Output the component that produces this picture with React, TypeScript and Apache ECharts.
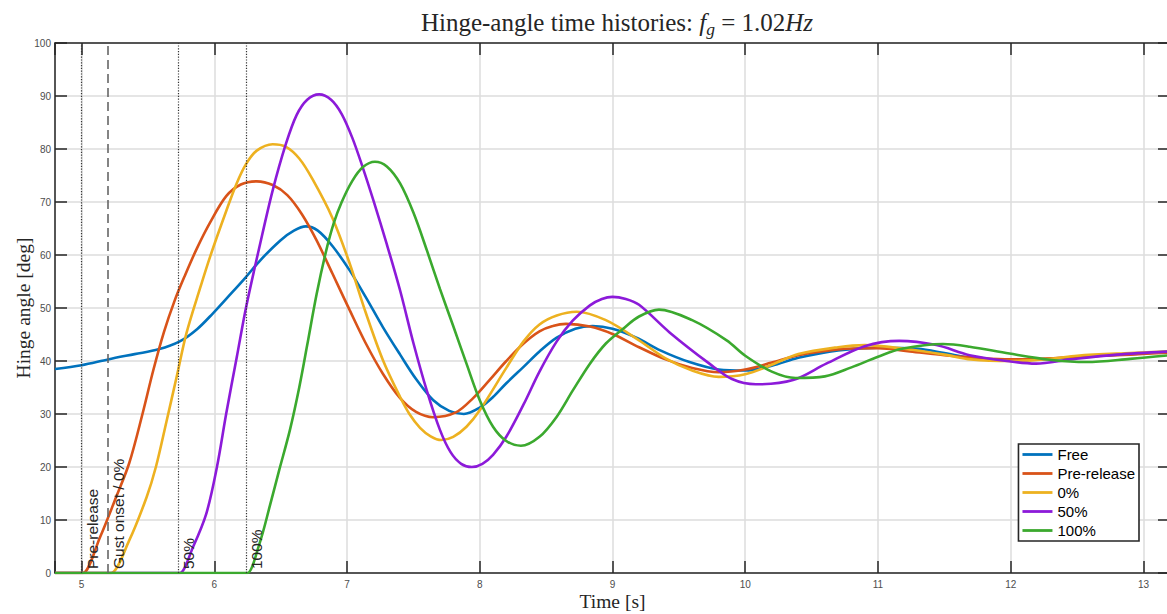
import React, { useEffect, useRef } from 'react';
import * as echarts from 'echarts';

// ---------- data ----------
const seriesNames = ['Free', 'Pre-release', '0%', '50%', '100%'];
const seriesColors = ['#0072BD', '#D95319', '#EDB120', '#8C1AD9', '#3BA92E'];

const freeData = [
  [4.8, 38.5], [5.0, 39.2], [5.2, 40.3], [5.4, 41.3], [5.58, 42.2], [5.74, 43.7], [5.87, 46], [5.99, 49],
  [6.1, 52], [6.22, 55.3], [6.35, 59.1], [6.5, 62.8], [6.6, 64.6], [6.69, 65.4], [6.78, 64.6], [6.89, 61.7],
  [7.02, 57.1], [7.14, 52.1], [7.27, 46.4], [7.4, 41.2], [7.52, 36.6], [7.65, 32.6], [7.77, 30.6], [7.88, 30],
  [8.0, 31.2], [8.1, 33.2], [8.2, 35.8], [8.33, 38.9], [8.45, 41.8], [8.58, 44.4], [8.72, 46.1], [8.85, 46.6],
  [9.0, 46.1], [9.18, 44.4], [9.36, 42], [9.58, 39.8], [9.8, 38.4], [10.0, 38.2], [10.2, 39.1], [10.4, 40.6],
  [10.7, 42.0], [11.0, 42.5], [11.3, 42.3], [11.5, 41.5], [11.7, 40.6], [12.0, 40.1], [12.3, 40.4], [12.5, 40.8],
  [12.9, 41.3], [13.2, 41.8],
];

const preReleaseData = [
  [4.8, 0], [4.99, 0], [5.01, 0], [5.14, 6.8], [5.26, 14.3], [5.36, 20.8], [5.46, 30.1], [5.54, 38.2],
  [5.62, 45.4], [5.7, 51.3], [5.78, 56.2], [5.87, 61.3], [5.97, 66.2], [6.09, 71.1], [6.2, 73.3], [6.32, 73.9],
  [6.44, 73.2], [6.55, 71.3], [6.66, 67.7], [6.77, 62.8], [6.89, 56.5], [7.02, 49.6], [7.14, 43.4], [7.27, 37.6],
  [7.4, 33.0], [7.52, 30.4], [7.65, 29.4], [7.82, 30.3], [7.95, 33.0], [8.07, 36.3], [8.2, 40.0], [8.33, 43.3],
  [8.45, 45.6], [8.55, 46.6], [8.65, 47], [8.83, 46.5], [9.0, 45.1], [9.2, 42.6], [9.4, 40.3], [9.6, 38.7],
  [9.8, 37.9], [10.0, 38.4], [10.2, 39.7], [10.4, 41.1], [10.7, 42.2], [11.0, 42.4], [11.24, 41.8], [11.5, 41.1],
  [11.7, 40.7], [12.0, 40.3], [12.3, 40.5], [12.5, 40.8], [12.9, 41.2], [13.2, 41.6],
];

const zeroPctData = [
  [4.8, 0], [5.2, 0], [5.22, 0], [5.36, 6.2], [5.49, 14.3], [5.56, 20], [5.64, 28.6], [5.72, 37.4], [5.79, 45.2],
  [5.9, 54.3], [5.97, 59.8], [6.09, 68.3], [6.17, 73.6], [6.24, 77.2], [6.32, 79.7], [6.44, 80.9], [6.54, 80.4],
  [6.64, 78.2], [6.74, 74.3], [6.89, 67.0], [7.02, 58.4], [7.14, 49.2], [7.27, 40.2], [7.4, 33.2], [7.47, 30.0],
  [7.55, 27.4], [7.63, 25.8], [7.71, 25.1], [7.8, 25.7], [7.9, 27.6], [8.0, 30.7], [8.2, 38.7], [8.33, 43.7],
  [8.45, 46.9], [8.58, 48.6], [8.73, 49.3], [8.95, 47.7], [9.2, 43.9], [9.4, 40.5], [9.6, 38.2], [9.8, 37],
  [10.0, 37.5], [10.2, 39.3], [10.4, 41.3], [10.7, 42.6], [10.9, 43], [11.2, 42.3], [11.5, 41.2], [11.7, 40.3],
  [12.0, 40], [12.3, 40.4], [12.5, 41], [12.9, 41.5], [13.2, 41.8],
];

const fiftyPctData = [
  [4.8, 0], [5.72, 0], [5.74, 0], [5.84, 4.9], [5.94, 11.2], [6.02, 20], [6.09, 30.1], [6.17, 40.8], [6.24, 50.2],
  [6.34, 61.5], [6.44, 72.2], [6.54, 81], [6.62, 86.4], [6.7, 89.3], [6.79, 90.3], [6.88, 89.3], [6.96, 86.6],
  [7.04, 82.1], [7.12, 76.4], [7.2, 70.2], [7.3, 62.0], [7.4, 53.3], [7.5, 43.4], [7.6, 34.5], [7.7, 27.0],
  [7.78, 22.8], [7.86, 20.6], [7.94, 20.0], [8.02, 20.6], [8.1, 22.3], [8.2, 25.7], [8.33, 31.8], [8.45, 38.0],
  [8.58, 43.7], [8.7, 47.6], [8.83, 50.5], [8.92, 51.7], [9.0, 52.1], [9.1, 51.7], [9.2, 50.6], [9.43, 45.4],
  [9.73, 39.5], [9.9, 36.6], [10.08, 35.6], [10.36, 36.4], [10.61, 39.5], [10.9, 42.8], [11.16, 43.8],
  [11.44, 43], [11.69, 41.1], [12.0, 39.9], [12.19, 39.5], [12.45, 40.3], [12.8, 41.2], [13.2, 41.8],
];

const hundredPctData = [
  [4.8, 0], [6.23, 0], [6.25, 0], [6.34, 5.5], [6.42, 12.8], [6.49, 19.5], [6.57, 27], [6.64, 35], [6.7, 43],
  [6.77, 52.5], [6.84, 60.5], [6.9, 66], [6.96, 70.0], [7.04, 74.0], [7.12, 76.6], [7.21, 77.6], [7.3, 76.7],
  [7.4, 73.5], [7.5, 68.0], [7.6, 61.0], [7.7, 53.6], [7.8, 46.6], [7.9, 39.5], [8.0, 32.6], [8.1, 27.6],
  [8.2, 24.9], [8.31, 24], [8.45, 25.7], [8.58, 29.5], [8.7, 34.4], [8.83, 39.5], [8.95, 43.3], [9.08, 46.1],
  [9.2, 48.4], [9.35, 49.7], [9.6, 47.7], [9.86, 43.9], [10.0, 41.0], [10.2, 38.0], [10.38, 36.8], [10.6, 37.1],
  [10.8, 38.8], [11.0, 40.8], [11.18, 42.3], [11.49, 43.2], [11.69, 42.7], [11.99, 41.4], [12.31, 40.2],
  [12.57, 39.8], [12.9, 40.4], [13.2, 41.1],
];

const seriesData = [freeData, preReleaseData, zeroPctData, fiftyPctData, hundredPctData];

const markerTimes = [5.0, 5.2, 5.73, 6.24];
const markerLabels = ['Pre-release', 'Gust onset / 0%', '50%', '100%'];
const markerDashed = [false, true, false, false];

const xMin = 4.8;
const xMax = 13.2;
const yMin = 0;
const yMax = 100;
const yStep = 10;

// ---------- styles ----------
const SANS = '"Liberation Sans", Arial, Helvetica, sans-serif';
const SERIF = '"Liberation Serif", "Times New Roman", serif';
const axisColor = '#262626';
const axisLineStyle = { color: axisColor, width: 1.5 };
const tickCfg = { show: true, inside: true, length: 12, lineStyle: { color: axisColor, width: 1.5 } };
const gridLine = { show: true, lineStyle: { color: '#dcdcdc', width: 1.5 } };

function buildOption() {
  const xCommon = {
    type: 'value',
    min: xMin,
    max: xMax,
    minInterval: 1,
    maxInterval: 1,
    axisLine: { show: true, onZero: false, lineStyle: axisLineStyle },
    axisTick: tickCfg,
  };
  const yCommon = {
    type: 'value',
    min: yMin,
    max: yMax,
    interval: yStep,
    axisLine: { show: true, onZero: false, lineStyle: axisLineStyle },
    axisTick: tickCfg,
  };

  const markLineData = markerTimes.map((t, i) => ({
    xAxis: t,
    name: markerLabels[i],
    lineStyle: markerDashed[i]
      ? { type: [9, 5], color: '#666666', width: 1.6 }
      : { type: [1.2, 1.6], color: '#333333', width: 1.2 },
  }));

  const series = seriesNames.map((name, i) => {
    const s: any = {
      name,
      type: 'line',
      data: seriesData[i],
      symbol: 'none',
      showSymbol: false,
      smooth: 0.33,
      color: seriesColors[i],
      lineStyle: { width: 2.6, color: seriesColors[i] },
      z: 3,
    };
    if (i === 0) {
      s.markLine = {
        silent: true,
        symbol: ['none', 'none'],
        animation: false,
        label: {
          show: true,
          position: 'insideStartBottom',
          formatter: '{b}',
          distance: [4, 2.5],
          color: '#262626',
          fontSize: 15.5,
          fontFamily: SANS,
        },
        data: markLineData,
      };
    }
    return s;
  });

  const titleBase = { fontFamily: SERIF, color: '#262626', fontWeight: 'normal' };

  return {
    animation: false,
    backgroundColor: '#ffffff',
    title: {
      text: '{n|Hinge-angle time histories: }{i|f}{s|g}{n| = 1.02}{i|Hz}',
      left: 612,
      textAlign: 'center',
      top: 1,
      textStyle: {
        fontWeight: 'normal',
        rich: {
          n: { ...titleBase, fontSize: 25, lineHeight: 32, verticalAlign: 'middle' },
          i: { ...titleBase, fontSize: 25, fontStyle: 'italic', lineHeight: 32, verticalAlign: 'middle' },
          s: { ...titleBase, fontSize: 17.5, fontStyle: 'italic', lineHeight: 16, verticalAlign: 'bottom' },
        },
      },
    },
    grid: { left: 55, right: -3, top: 43, bottom: 41, containLabel: false, outerBoundsMode: 'none' },
    legend: {
      data: seriesNames,
      orient: 'vertical',
      right: 28,
      bottom: 73,
      itemWidth: 30,
      itemHeight: 14,
      itemGap: 4,
      icon: 'path://M0,0 L30,0 L30,2.8 L0,2.8 Z',
      padding: [3, 4, 3, 4],
      borderColor: '#262626',
      borderWidth: 1.6,
      backgroundColor: '#ffffff',
      textStyle: { fontSize: 15, color: '#000000', fontFamily: SANS },
    },
    xAxis: [
      {
        ...xCommon,
        position: 'bottom',
        axisLabel: {
          color: '#4d4d4d',
          fontSize: 10,
          fontFamily: SANS,
          margin: 6,
          formatter: (v: number) => (Number.isInteger(v) ? String(v) : ''),
        },
        splitLine: gridLine,
        name: 'Time [s]',
        nameLocation: 'middle',
        nameMoveOverlap: false,
        nameGap: 18,
        nameTextStyle: { fontFamily: SERIF, fontSize: 19.5, color: '#262626' },
      },
      {
        ...xCommon,
        position: 'top',
        axisLabel: { show: false },
        splitLine: { show: false },
      },
    ],
    yAxis: [
      {
        ...yCommon,
        position: 'left',
        axisLabel: { color: '#4d4d4d', fontSize: 10, fontFamily: SANS, margin: 4 },
        splitLine: gridLine,
        name: 'Hinge angle [deg]',
        nameLocation: 'middle',
        nameMoveOverlap: false,
        nameGap: 22,
        nameTextStyle: { fontFamily: SERIF, fontSize: 19.5, color: '#262626' },
      },
      {
        ...yCommon,
        position: 'right',
        axisLabel: { show: false },
        splitLine: { show: false },
      },
    ],
    series,
  };
}

export default function App() {
  const ref = useRef<HTMLDivElement>(null);
  useEffect(() => {
    if (!ref.current) return;
    const chart = echarts.init(ref.current, null, { renderer: 'svg' });
    chart.setOption(buildOption() as any);
    return () => chart.dispose();
  }, []);
  return (
    <div
      ref={ref}
      style={{ position: 'fixed', left: 0, top: 0, width: 1167, height: 614, background: '#ffffff' }}
    />
  );
}
